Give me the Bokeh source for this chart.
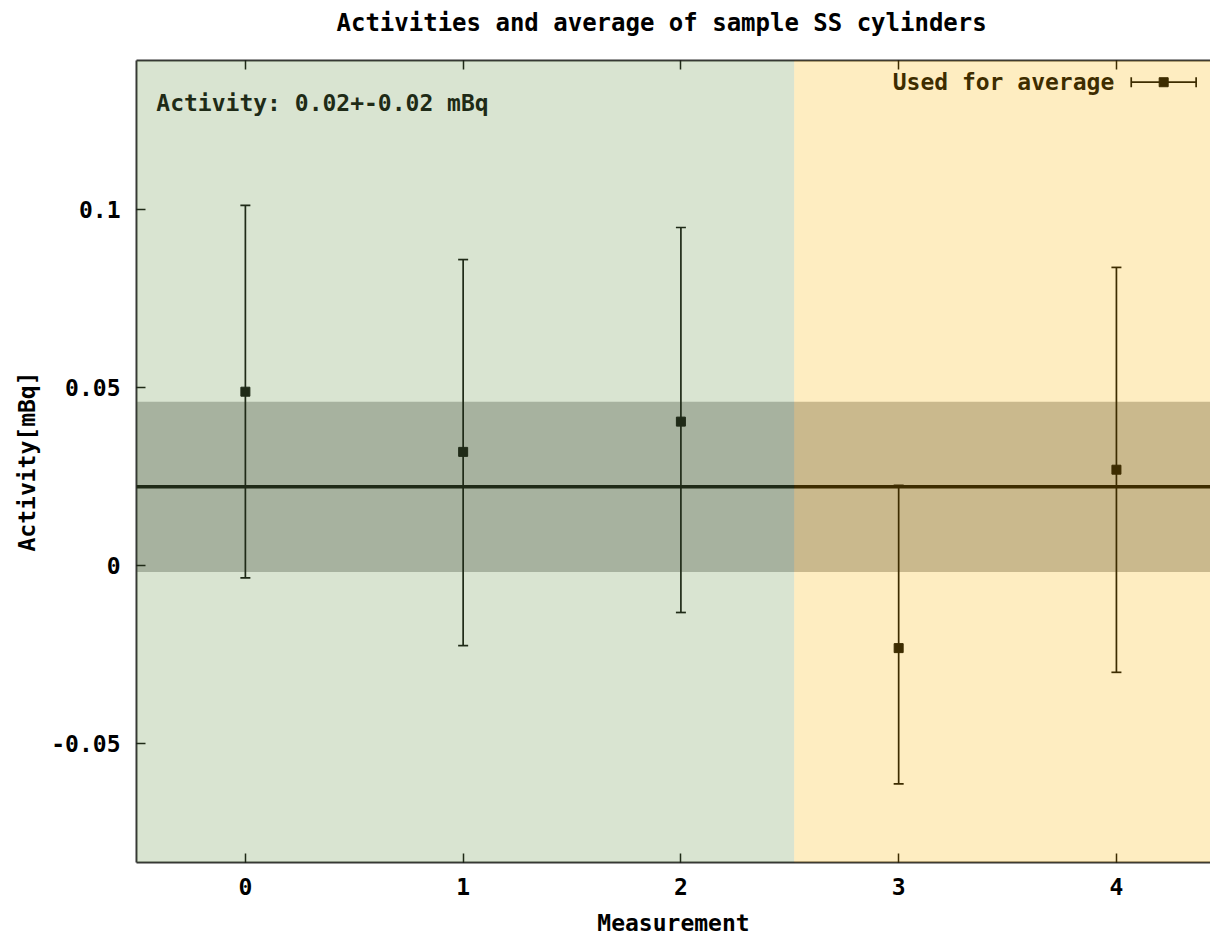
from bokeh.plotting import figure
from bokeh.models import (Whisker, TeeHead, ColumnDataSource, BoxAnnotation, Span, Label,
                          LinearAxis, FixedTicker, Title, CustomLabelingPolicy)
from bokeh.embed import file_html
from bokeh.resources import INLINE

# ---- data ----
measurement = [0, 1, 2, 3, 4]
activity = [0.0489, 0.0320, 0.0405, -0.0231, 0.0270]
activity_low = [-0.0034, -0.0224, -0.0131, -0.0612, -0.0299]
activity_high = [0.1012, 0.0860, 0.0950, 0.0226, 0.0838]
average = 0.0222
average_err = 0.0239
used_start = 2.52          # measurements right of this are "Used for average"
x_ticks = [0, 1, 2, 3, 4]
y_ticks = [-0.05, 0, 0.05, 0.1]
y_tick_labels = {-0.05: "-0.05", 0: "0", 0.05: "0.05", 0.1: "0.1"}

FONT = "DejaVu Sans Mono"
FS = "23px"

X0, X1 = -0.5, 4.432
Y0, Y1 = -0.0833, 0.1419

p = figure(width=1210, height=938, x_range=(X0, X1), y_range=(Y0, Y1),
           output_backend="svg", toolbar_location=None,
           min_border_left=136, min_border_right=0, min_border_top=60, min_border_bottom=76,
           background_fill_color="white", border_fill_color="white")
p.outline_line_color = None
p.grid.visible = False

p.title = Title(text="Activities and average of sample SS cylinders", align="left",
                text_font=FONT, text_font_size="24px", text_font_style="bold",
                text_color="black", standoff=8, offset=200)

def style_axis(ax):
    ax.axis_line_color = "#333333"
    ax.axis_line_width = 2
    ax.major_tick_in = 9
    ax.major_tick_out = 0
    ax.major_tick_line_color = "black"
    ax.major_tick_line_width = 1.5
    ax.minor_tick_line_color = None
    ax.major_label_text_font = FONT
    ax.major_label_text_font_size = FS
    ax.major_label_text_font_style = "bold"
    ax.major_label_text_color = "black"
    ax.axis_label_text_font = FONT
    ax.axis_label_text_font_size = FS
    ax.axis_label_text_font_style = "bold"
    ax.axis_label_text_color = "black"

xa = p.xaxis[0]
style_axis(xa)
xa.ticker = FixedTicker(ticks=x_ticks)
xa.axis_label = "Measurement"
xa.major_label_standoff = 15
xa.axis_label_standoff = 12

ya = p.yaxis[0]
style_axis(ya)
ya.ticker = FixedTicker(ticks=y_ticks)
ya.major_label_overrides = y_tick_labels
ya.axis_label = "Activity[mBq]"
ya.major_label_standoff = 16
ya.axis_label_standoff = 8

top = LinearAxis(ticker=FixedTicker(ticks=x_ticks))
style_axis(top)
top.major_label_standoff = 0
top.major_label_policy = CustomLabelingPolicy(code="""
for (const i of indices)
  indices.unset(i)
return indices
""")
p.add_layout(top, "above")

# average band and line
band = BoxAnnotation(bottom=average - average_err, top=average + average_err,
                     fill_color="black", fill_alpha=0.265, line_alpha=0, level="underlay")
p.add_layout(band)
avg_line = Span(location=average, dimension="width", line_color="black", line_width=3.5,
                level="annotation")
p.add_layout(avg_line)

src = ColumnDataSource(dict(x=measurement, y=activity, lo=activity_low, hi=activity_high))
wh = Whisker(base="x", lower="lo", upper="hi", source=src, line_color="black", line_width=1.7,
             upper_head=TeeHead(size=10, line_color="black", line_width=1.7),
             lower_head=TeeHead(size=10, line_color="black", line_width=1.7),
             level="annotation")
p.add_layout(wh)
p.scatter("x", "y", source=src, marker="square", size=9, fill_color="black", line_color="black")

# annotation text
p.add_layout(Label(x=X0 + 0.091, y=0.1301, text="Activity: 0.02+-0.02 mBq",
                   text_font=FONT, text_font_size=FS, text_font_style="bold",
                   text_color="black", text_baseline="middle", text_align="left"))

# key ("Used for average") drawn as an errorbar sample
key_y = 0.1358
p.add_layout(Label(x=3.99, y=key_y, text="Used for average", text_font=FONT,
                   text_font_size=FS, text_font_style="bold", text_color="black",
                   text_baseline="middle", text_align="right"))
key_src = ColumnDataSource(dict(x0=[4.068], x1=[4.366], y=[key_y], xm=[4.217]))
p.segment("x0", "y", "x1", "y", source=key_src, line_color="black", line_width=1.7)
key_caps = ColumnDataSource(dict(x=[4.068, 4.366], y0=[key_y - 0.0014, key_y - 0.0014],
                                 y1=[key_y + 0.0014, key_y + 0.0014]))
p.segment("x", "y0", "x", "y1", source=key_caps, line_color="black", line_width=1.7)
p.scatter("xm", "y", source=key_src, marker="square", size=9, fill_color="black", line_color="black")

# translucent region shading drawn on top
p.add_layout(BoxAnnotation(right=used_start, fill_color="#739b55", fill_alpha=0.27,
                           line_alpha=0, level="overlay"))
p.add_layout(BoxAnnotation(left=used_start, fill_color="#f9b400", fill_alpha=0.245,
                           line_alpha=0, level="overlay"))

open("out.html", "w").write(file_html(p, INLINE))
